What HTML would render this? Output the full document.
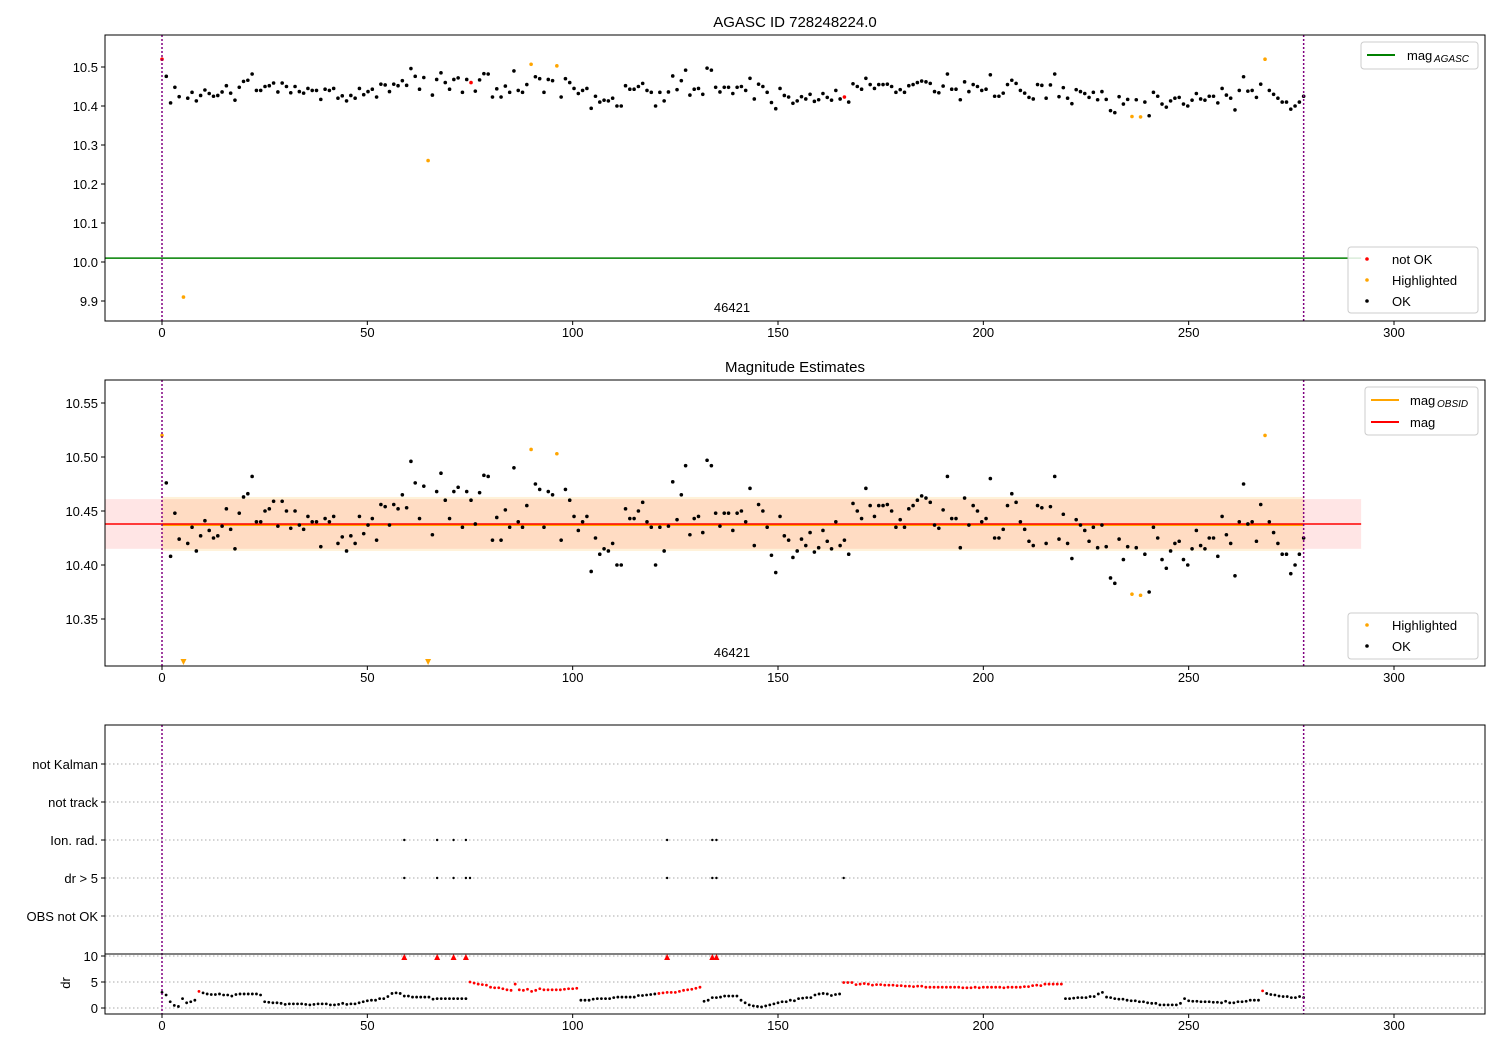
<!DOCTYPE html>
<html><head><meta charset="utf-8"><style>
body{margin:0;background:#fff;font-family:"Liberation Sans","DejaVu Sans",sans-serif;}
svg text{font-family:"Liberation Sans","DejaVu Sans",sans-serif;}
</style></head><body>
<svg id="s" width="1500" height="1050" xmlns="http://www.w3.org/2000/svg"></svg>
<script>
const mag=[10.52,10.476,10.408,10.448,10.424,9.91,10.42,10.435,10.413,10.427,10.441,10.432,10.425,10.427,10.436,10.452,10.433,10.415,10.448,10.463,10.466,10.482,10.44,10.44,10.45,10.452,10.459,10.436,10.459,10.45,10.434,10.45,10.437,10.433,10.445,10.44,10.44,10.417,10.443,10.44,10.445,10.42,10.426,10.413,10.427,10.42,10.445,10.429,10.437,10.443,10.423,10.456,10.454,10.437,10.456,10.452,10.465,10.453,10.496,10.476,10.443,10.473,10.26,10.428,10.468,10.485,10.46,10.443,10.468,10.472,10.435,10.468,10.46,10.438,10.467,10.483,10.482,10.423,10.444,10.423,10.451,10.435,10.49,10.44,10.435,10.455,10.507,10.475,10.47,10.435,10.468,10.465,10.503,10.423,10.47,10.46,10.445,10.432,10.44,10.445,10.394,10.425,10.41,10.415,10.413,10.42,10.4,10.4,10.452,10.443,10.443,10.45,10.458,10.44,10.435,10.4,10.435,10.413,10.436,10.477,10.442,10.465,10.492,10.428,10.443,10.445,10.43,10.497,10.492,10.448,10.436,10.448,10.448,10.432,10.448,10.45,10.44,10.471,10.418,10.456,10.45,10.435,10.409,10.393,10.445,10.427,10.423,10.407,10.413,10.424,10.418,10.43,10.412,10.416,10.432,10.422,10.415,10.44,10.418,10.423,10.41,10.457,10.45,10.443,10.471,10.455,10.445,10.455,10.455,10.456,10.45,10.435,10.442,10.435,10.452,10.455,10.46,10.464,10.462,10.458,10.437,10.434,10.451,10.482,10.443,10.443,10.416,10.462,10.437,10.455,10.45,10.44,10.443,10.48,10.425,10.425,10.433,10.455,10.466,10.458,10.44,10.433,10.422,10.418,10.455,10.453,10.42,10.454,10.482,10.424,10.447,10.42,10.406,10.442,10.437,10.432,10.422,10.435,10.416,10.437,10.417,10.388,10.383,10.424,10.405,10.417,10.373,10.416,10.372,10.41,10.375,10.435,10.425,10.405,10.397,10.413,10.42,10.422,10.405,10.4,10.415,10.432,10.418,10.415,10.425,10.425,10.408,10.445,10.428,10.42,10.39,10.44,10.475,10.438,10.44,10.422,10.456,10.52,10.44,10.43,10.42,10.41,10.41,10.392,10.4,10.41,10.425];
const highlighted=[0,5,62,86,92,226,228,257];
const notOkX=[0,75,166];
const dr=[3,2.5,1.2,0.5,0.3,1.8,1,1.2,1.5,3.2,2.9,2.7,2.6,2.6,2.7,2.5,2.5,2.3,2.6,2.7,2.7,2.7,2.7,2.7,2.5,1.2,1.1,1.0,1.0,0.9,0.7,0.8,0.8,0.8,0.8,0.7,0.6,0.7,0.8,0.8,0.8,0.6,0.6,0.7,0.9,0.7,0.8,0.8,1.0,1.2,1.4,1.5,1.5,1.8,1.8,2.2,2.8,2.9,2.8,2.3,2.3,2.1,2.1,2.1,2.1,2.1,1.7,1.8,1.8,1.8,1.8,1.8,1.8,1.8,1.8,5.0,4.8,4.6,4.5,4.4,4.0,3.9,3.9,3.7,3.5,3.4,4.6,3.5,3.4,3.6,3.2,3.4,3.7,3.5,3.5,3.5,3.5,3.5,3.6,3.7,3.7,3.8,1.5,1.5,1.5,1.7,1.8,1.8,1.8,1.8,2.0,2.1,2.1,2.1,2.1,2.1,2.4,2.4,2.5,2.6,2.7,2.8,2.9,3.0,3.0,3.0,3.2,3.4,3.5,3.6,3.8,4.0,1.3,1.5,2.0,2.0,2.1,2.3,2.3,2.3,2.3,1.5,1.0,0.6,0.4,0.3,0.2,0.4,0.6,0.8,1.0,1.2,1.2,1.5,1.4,1.8,1.9,2.0,2.0,2.5,2.7,2.8,2.7,2.4,2.6,2.7,4.9,4.9,4.9,4.5,4.6,4.7,4.6,4.4,4.5,4.5,4.4,4.4,4.4,4.3,4.3,4.2,4.2,4.1,4.2,4.2,4.0,4.0,4.0,4.0,4.0,4.0,4.0,4.0,4.0,3.9,3.9,3.9,4.0,3.9,4.0,4.0,4.0,4.0,4.0,3.9,4.0,4.0,4.0,4.0,4.1,4.1,4.3,4.4,4.3,4.6,4.6,4.6,4.6,4.6,1.8,1.8,1.9,2.0,2.0,2.0,2.2,2.2,2.7,3.0,2.1,2.0,1.8,1.7,1.7,1.5,1.4,1.4,1.2,1.2,1.0,0.9,0.9,0.6,0.6,0.6,0.6,0.6,0.9,1.8,1.4,1.3,1.3,1.2,1.2,1.2,1.1,1.1,1.0,1.3,1.0,1.0,1.2,1.2,1.3,1.5,1.5,1.5,3.3,2.8,2.6,2.5,2.3,2.2,2.2,2.0,2.0,2.2,2.0];
const drRedRanges=[[9,9],[75,101],[121,131],[166,219],[268,268]];
const drCapX=[59,67,71,74,123,134,135];
const ionRadX=[59,67,71,74,123,134,135];
const dr5X=[59,67,71,74,75,123,134,135,166];
const categories=["not Kalman","not track","Ion. rad.","dr > 5","OBS not OK"];
const xTicks=[0,50,100,150,200,250,300];
const y1Ticks=[9.9,10.0,10.1,10.2,10.3,10.4,10.5];
const y2Ticks=[10.35,10.40,10.45,10.50,10.55];
const drTicks=[0,5,10];
const magMean=10.438, magLo=10.415, magHi=10.461, obsLo=10.413, obsHi=10.463, magAgasc=10.01;
const xEnd=278, xLineEnd=292;

const S=document.getElementById('s');const NS='http://www.w3.org/2000/svg';
function el(t,a,txt){const e=document.createElementNS(NS,t);for(const k in a)e.setAttribute(k,a[k]);if(txt!==undefined)e.textContent=txt;S.appendChild(e);return e;}
const X=v=>162+v*(1394-162)/300;
const Y1=v=>67+(10.5-v)*390;
const Y2=v=>403+(10.55-v)*1080;
const Yd=v=>1008-v*5.2;
const catY=[764,802,840,878,916];
const L=105,R=1485;
const N=mag.length;
const magX=i=>i*xEnd/(N-1);

function frame(top,bot,name){
  let r=el('rect',{x:L,y:top,width:R-L,height:bot-top,fill:'none',stroke:'#000','stroke-width':1});
  
}
function xaxis(bot){
  xTicks.forEach(t=>{el('line',{x1:X(t),x2:X(t),y1:bot,y2:bot+4,stroke:'#000'});
    let tx=el('text',{x:X(t),y:bot+16,'font-size':13,'text-anchor':'middle'},t);
    });
}
function vlines(top,bot){[0,xEnd].forEach(v=>{let l=el('line',{x1:X(v),x2:X(v),y1:top,y2:bot,stroke:'#800080','stroke-width':1.5,'stroke-dasharray':'2,2'});
  });}
function dot(x,y,c,r,name){let d=el('circle',{cx:x,cy:y,r:r,fill:c});return d;}
function tri(x,y,c,name){let p=el('path',{d:`M${x-3},${y-3}L${x+3},${y-3}L${x},${y+3}Z`,fill:c});}
function tri_up(x,y,c,name){let p=el('path',{d:`M${x-3},${y+3}L${x+3},${y+3}L${x},${y-3}Z`,fill:c});}
function ytick(y,label,name){el('line',{x1:L-4,x2:L,y1:y,y2:y,stroke:'#000'});let t=el('text',{x:L-7,y:y+5,'font-size':13,'text-anchor':'end'},label);}
function legendBox(x,y,w,h,name){let r=el('rect',{x:x,y:y,width:w,height:h,rx:3,fill:'#fff','fill-opacity':0.85,stroke:'#ccc'});}

// ---------- Panel 1 ----------
let t1=el('text',{x:795,y:27,'font-size':15,'text-anchor':'middle'},'AGASC ID 728248224.0');

y1Ticks.forEach(t=>ytick(Y1(t),t.toFixed(1),'y-tick-label'));
let g1=el('line',{x1:L,x2:X(xLineEnd),y1:Y1(magAgasc),y2:Y1(magAgasc),stroke:'green','stroke-width':1.5});

mag.forEach((v,i)=>{const x=magX(i);let c='#000';
  if(highlighted.includes(i))c='orange';
  if(notOkX.some(n=>Math.abs(n-x)<0.6))c='red';
  dot(X(x),Y1(v),c,1.8,'mag-point');});
vlines(35,321);
let n1=el('text',{x:732,y:312,'font-size':13,'text-anchor':'middle'},'46421');
frame(35,321,'agasc-axes');xaxis(321);
legendBox(1361,42,117,27,'legend-agasc');
el('line',{x1:1367,x2:1395,y1:55,y2:55,stroke:'green','stroke-width':2});
let la=el('text',{x:1407,y:60,'font-size':13},'mag');
el('text',{x:1434,y:62,'font-size':10,'font-style':'italic'},'AGASC');
legendBox(1348,247,130,66,'legend-status');
dot(1367,259,'red',1.8,'legend-marker');dot(1367,280,'orange',1.8,'legend-marker');dot(1367,301,'#000',1.8,'legend-marker');
[['not OK',264],['Highlighted',285],['OK',306]].forEach(([s,y])=>{let t=el('text',{x:1392,y:y,'font-size':13},s);});

// ---------- Panel 2 ----------
let t2=el('text',{x:795,y:372,'font-size':15,'text-anchor':'middle'},'Magnitude Estimates');

y2Ticks.forEach(t=>ytick(Y2(t),t.toFixed(2),'y-tick-label'));
let b1=el('rect',{x:L,y:Y2(magHi),width:X(xLineEnd)-L,height:Y2(magLo)-Y2(magHi),fill:'red','fill-opacity':0.1});

let b2=el('rect',{x:X(0),y:Y2(obsHi),width:X(xEnd)-X(0),height:Y2(obsLo)-Y2(obsHi),fill:'orange','fill-opacity':0.15});

let ol=el('line',{x1:X(0),x2:X(xEnd),y1:Y2(magMean)+1,y2:Y2(magMean)+1,stroke:'orange','stroke-width':2});
let rl=el('line',{x1:L,x2:X(xLineEnd),y1:Y2(magMean),y2:Y2(magMean),stroke:'red','stroke-width':1.5});
mag.forEach((v,i)=>{const x=magX(i);const c=highlighted.includes(i)?'orange':'#000';
  if(v<10.31){tri(X(x),662,'orange','mag-offscale-marker');}
  else dot(X(x),Y2(v),c,1.8,'mag-point');});
vlines(380,666);
let n2=el('text',{x:732,y:657,'font-size':13,'text-anchor':'middle'},'46421');
frame(380,666,'estimates-axes');xaxis(666);
legendBox(1365,387,113,48,'legend-estimates');
el('line',{x1:1371,x2:1399,y1:400,y2:400,stroke:'orange','stroke-width':2});
el('line',{x1:1371,x2:1399,y1:422,y2:422,stroke:'red','stroke-width':2});
let lo=el('text',{x:1410,y:405,'font-size':13},'mag');
el('text',{x:1437,y:407,'font-size':10,'font-style':'italic'},'OBSID');
let lm=el('text',{x:1410,y:427,'font-size':13},'mag');
legendBox(1348,613,130,46,'legend-highlight');
dot(1367,625,'orange',1.8,'legend-marker');dot(1367,646,'#000',1.8,'legend-marker');
[['Highlighted',630],['OK',651]].forEach(([s,y])=>{let t=el('text',{x:1392,y:y,'font-size':13},s);});

// ---------- Panel 3 ----------
categories.forEach((c,k)=>{el('line',{x1:L,x2:R,y1:catY[k],y2:catY[k],stroke:'#aaa','stroke-dasharray':'1.5,2.5'});ytick(catY[k],c,'flag-label');});
drTicks.forEach(t=>{el('line',{x1:L,x2:R,y1:Yd(t),y2:Yd(t),stroke:'#aaa','stroke-dasharray':'1.5,2.5'});ytick(Yd(t),String(t),'dr-tick-label');});
let dl=el('text',{x:70,y:983,'font-size':13,'text-anchor':'middle',transform:'rotate(-90 70 983)'},'dr');
ionRadX.forEach(x=>dot(X(x),catY[2],'#000',1.2,'ion-rad-flag'));
dr5X.forEach(x=>dot(X(x),catY[3],'#000',1.2,'dr5-flag'));
dr.forEach((v,i)=>{const red=drRedRanges.some(([a,b])=>i>=a&&i<=b);dot(X(i),Yd(v),red?'red':'#000',1.4,'dr-point');});
drCapX.forEach(x=>tri_up(X(x),Yd(10)+1,'red','dr-capped-marker'));
vlines(725,1014);
el('line',{x1:L,x2:R,y1:954,y2:954,stroke:'#000'});
frame(725,1014,'flags-axes');xaxis(1014);
</script>
</body></html>
